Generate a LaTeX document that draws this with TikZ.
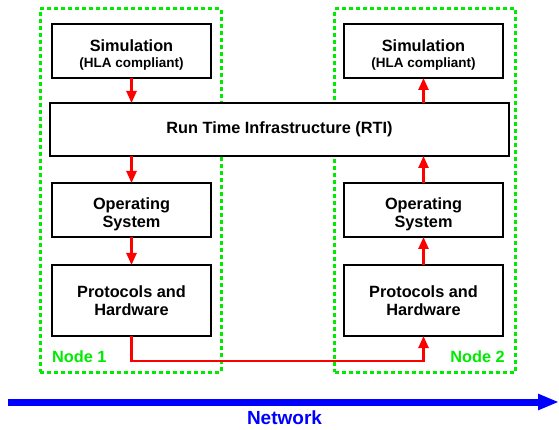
\documentclass[tikz,border=0pt]{standalone}
\usepackage{fontspec}
\setmainfont{Liberation Sans}
\usetikzlibrary{arrows.meta}
\definecolor{nodegreen}{RGB}{0,235,0}
\definecolor{wirered}{RGB}{255,0,0}
\definecolor{netblue}{RGB}{0,0,255}
% invisible strut that pushes a multi-line label down a little
\newcommand{\topgap}[1]{\rule{0pt}{#1}}
\tikzset{
  layer/.style={draw=black, line width=2pt, fill=white, minimum width=159pt,
    minimum height=54pt, inner sep=0pt, outer sep=0pt, align=center,
    font=\fontsize{16.3}{18.5}\selectfont\bfseries},
  hostbox/.style={draw=nodegreen, line width=3pt, dash pattern=on 4pt off 3pt,
    minimum width=181pt, minimum height=363pt, inner sep=0pt, outer sep=0pt},
  hostlabel/.style={text=nodegreen, inner sep=0pt,
    font=\fontsize{16.3}{18}\selectfont\bfseries},
  flow/.style={draw=wirered, line width=2.5pt,
    -{Triangle[length=12pt,width=10pt]}}
}
\begin{document}
\begin{tikzpicture}[x=1pt, y=-1pt]
\useasboundingbox (0,0) rectangle (559,430);

% host frames
\node[hostbox] (host1) at (130.5,190.5) {};
\node[hostbox] (host2) at (425,190.5) {};

% left stack
\node[layer] (sim1) at (131.5,51) {\topgap{19.5pt}Simulation\\[-2pt]{\fontsize{13.5}{15}\selectfont(HLA compliant)}};
\node[layer] (os1) at (131.5,210) {\topgap{20.5pt}Operating\\System};
\node[layer, minimum height=71pt] (pr1) at (131.5,300.5) {Protocols and\\Hardware};

% right stack
\node[layer] (sim2) at (423.5,51) {\topgap{19.5pt}Simulation\\[-2pt]{\fontsize{13.5}{15}\selectfont(HLA compliant)}};
\node[layer] (os2) at (423.5,210) {\topgap{20.5pt}Operating\\System};
\node[layer, minimum height=71pt] (pr2) at (423.5,300.5) {Protocols and\\Hardware};

% shared RTI
\node[layer, minimum width=459pt, minimum height=53pt] (rti) at (279.5,129.5) {Run Time Infrastructure (RTI)};

% labels
\node[hostlabel, anchor=west] (lab1) at (52,357) {Node 1};
\node[hostlabel, anchor=east] (lab2) at (505,357) {Node 2};

% data flow down the sender, up the receiver
\draw[flow] (sim1.south) -- (sim1.south |- rti.north);
\draw[flow] (sim1.south |- rti.south) -- (os1.north);
\draw[flow] (os1.south) -- (pr1.north);
\coordinate (w1) at (131.5,361);
\coordinate (w2) at (423.5,361);
\draw[flow] (pr1.south) -- (w1) -- (w2) -- (pr2.south);
\draw[flow] (pr2.north) -- (os2.south);
\draw[flow] (os2.north) -- (os2.north |- rti.south);
\draw[flow] (sim2.south |- rti.north) -- (sim2.south);

% network
\coordinate (n0) at (8,402);
\coordinate (n1) at (559,402);
\draw[netblue, line width=7pt, -{Triangle[length=21pt,width=15pt]}] (n0) -- (n1);
\node[text=netblue, font=\fontsize{19}{22}\selectfont\bfseries, inner sep=0pt] (net) at (284.5,418) {Network};
\end{tikzpicture}
\end{document}
